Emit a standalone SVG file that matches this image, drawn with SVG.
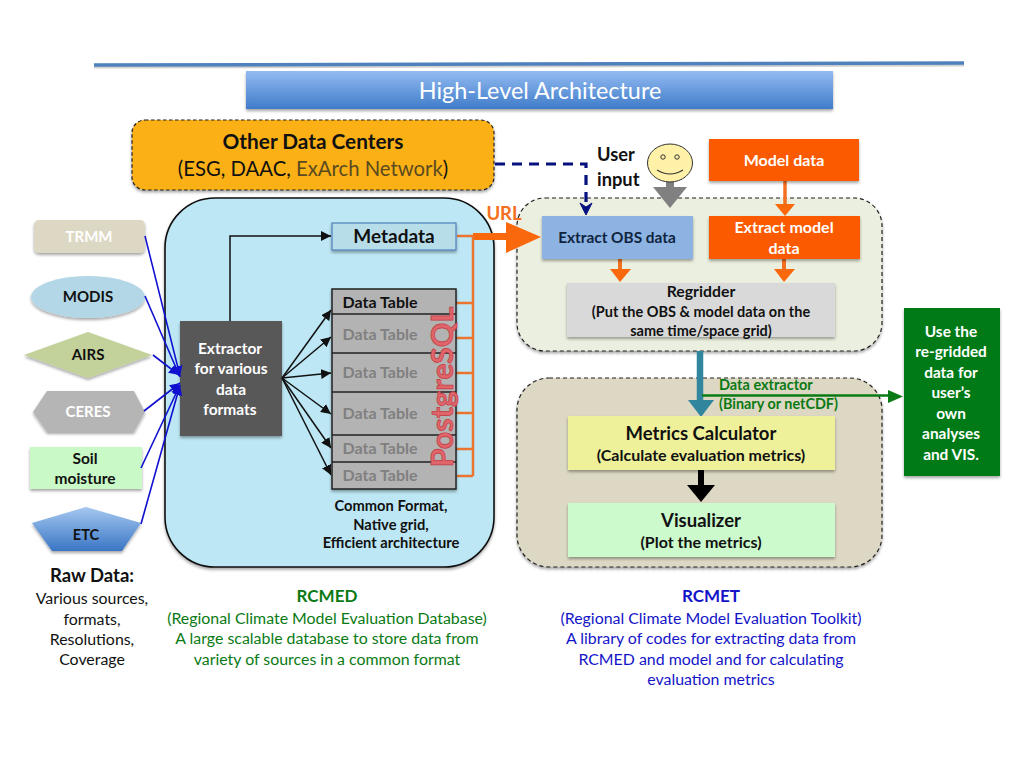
<svg xmlns="http://www.w3.org/2000/svg" width="1024" height="768" viewBox="0 0 1024 768">
<style>
text{font-family:Lato,"Open Sans","Liberation Sans",sans-serif;text-anchor:middle}
.b{font-weight:700}
.k{fill:#111}
.w{fill:#fff;font-weight:700}
.s{filter:url(#sh)}
.dt{font-size:16px;font-weight:700;fill:#808080}
.g{fill:#0a7a14}
.bl{fill:#1414c8}
.con{fill:none;stroke:#111;stroke-width:1.5;marker-end:url(#ah)}
.blue{fill:none;stroke:#1010d0;stroke-width:1.6;marker-end:url(#bh)}
.or{fill:none;stroke:#ea7430;stroke-width:2.5}
.arr{fill:#f9680d}
.sep{stroke:#222;stroke-width:1.5}
.cap{font-size:15.9px}
</style>
<defs>
<filter id="sh" x="-10%" y="-10%" width="120%" height="125%"><feDropShadow dx="0" dy="2" stdDeviation="1.5" flood-color="#000" flood-opacity=".35"/></filter>
<linearGradient id="tg" x1="0" y1="0" x2="0" y2="1"><stop offset="0" stop-color="#93bbf2"/><stop offset="1" stop-color="#3f7cc9"/></linearGradient>
<linearGradient id="eg" x1="0" y1="0" x2="0" y2="1"><stop offset="0" stop-color="#a5c8f0"/><stop offset="1" stop-color="#3a76c4"/></linearGradient>
<marker id="ah" markerUnits="userSpaceOnUse" markerWidth="11" markerHeight="10" refX="10" refY="5" orient="auto"><path d="M0 0L10 5L0 10Z" fill="#111"/></marker>
<marker id="bh" markerUnits="userSpaceOnUse" markerWidth="11" markerHeight="10" refX="10" refY="5" orient="auto"><path d="M0 0L10 5L0 10Z" fill="#1010d0"/></marker>
</defs>
<rect width="1024" height="768" fill="#fff"/>
<g id="rule"><path d="M94 67L964 65" stroke="#000" stroke-opacity=".18" stroke-width="3" fill="none"/><path d="M94 65L964 63" stroke="#4f81bd" stroke-width="3.5" fill="none"/></g>
<g id="title"><rect x="246" y="71" width="587" height="38" fill="url(#tg)" class="s"/><text x="540" y="99" font-size="23.400" fill="#fff">High-Level Architecture</text></g>
<g id="other-data-centers"><rect x="132" y="120" width="362" height="70" rx="13" fill="#fbb016" stroke="#222" stroke-width="1.2" stroke-dasharray="3.5 2.5" class="s"/><text x="313" y="149" font-size="20.800" class="b k">Other Data Centers</text><text x="313" y="176" font-size="20.300" class="k">(ESG, DAAC, <tspan fill="#5a4a20">ExArch Network</tspan>)</text></g>
<g id="rcmed-panel"><rect x="165" y="198" width="329" height="369" rx="50" fill="#bde7f4" stroke="#111" stroke-width="1.6" class="s"/></g>
<g id="rcmet-top-panel"><rect x="517" y="198" width="365" height="153" rx="28" fill="#ebefdf" stroke="#222" stroke-width="1.2" stroke-dasharray="4 3" class="s"/></g>
<g id="rcmet-bottom-panel"><rect x="517" y="378" width="365" height="189" rx="32" fill="#ddd8c3" stroke="#222" stroke-width="1.2" stroke-dasharray="4 3" class="s"/></g>

<g id="trmm"><rect x="34" y="220" width="111" height="33" rx="5" fill="#ddd8c3" class="s"/><text x="89" y="242" font-size="15" class="w">TRMM</text></g>
<g id="modis"><ellipse cx="88" cy="297" rx="57" ry="21" fill="#b3d7e6" class="s"/><text x="88" y="302" font-size="15" class="b k">MODIS</text></g>
<g id="airs"><path d="M24 355L88 332L152 355L88 378Z" fill="#c2d29a" class="s"/><text x="88" y="360" font-size="15" class="b k">AIRS</text></g>
<g id="ceres"><path d="M33 412L47 391H134L145 412L134 432H47Z" fill="#b5b5b5" class="s"/><text x="88" y="417" font-size="15" class="w">CERES</text></g>
<g id="soil-moisture"><rect x="30" y="447" width="112" height="42" fill="#c9f9c6" class="s"/><text x="85" y="464" font-size="15.500" class="b k">Soil</text><text x="85" y="484" font-size="15.500" class="b k">moisture</text></g>
<g id="etc"><path d="M32 523L86 507L141 523L122 551H52Z" fill="url(#eg)" class="s"/><text x="86" y="540" font-size="14.500" class="b k">ETC</text></g>
<g id="extractor"><rect x="180" y="321" width="102" height="115" fill="#595959" class="s"/><text x="230" y="354" font-size="15.500" class="w">Extractor</text><text x="231" y="374" font-size="15.500" class="w">for various</text><text x="231" y="395" font-size="15.500" class="w">data</text><text x="230" y="415" font-size="15.500" class="w">formats</text></g>

<g id="connectors">
<path class="blue" d="M145 236L180 376"/>
<path class="blue" d="M145 296L180 377"/>
<path class="blue" d="M153 355L179 375"/>
<path class="blue" d="M144 411L180 383"/>
<path class="blue" d="M141 468L180 385"/>
<path class="blue" d="M141 524L180 385"/>
<path class="con" d="M230 321V236H331"/>
<path class="con" d="M282 378L331 310"/>
<path class="con" d="M282 378L331 337"/>
<path class="con" d="M282 378L331 373"/>
<path class="con" d="M282 378L331 414"/>
<path class="con" d="M282 378L331 448"/>
<path class="con" d="M282 378L331 475"/>
<path d="M495 164H586V206" fill="none" stroke="#06107f" stroke-width="3.2" stroke-dasharray="10 7"/>
<path d="M580 203L586 215L592 203L586 207Z" fill="#06107f" stroke="#06107f"/>
<path d="M670 180V190" stroke="#808080" stroke-width="8"/>
<path d="M653 187H687L670 208Z" fill="#808080"/>
<path d="M785 181V205" stroke="#f47021" stroke-width="3.5"/>
<path class="arr" d="M775 204H795L785 216Z"/>
<path d="M620 258V270" stroke="#f47021" stroke-width="4"/>
<path class="arr" d="M610 269H631L620 282Z"/>
<path d="M784 258V270" stroke="#f47021" stroke-width="4"/>
<path class="arr" d="M774 269H795L784 282Z"/>
<path d="M457 236H473" stroke="#ea7430" stroke-width="2.5"/>
<path class="arr" d="M473 233H506V222L541 237L506 253V240H473Z"/>
<path class="or" d="M473 236V476"/>
<path class="or" d="M456 303H473M456 338H473M456 373H473M456 413H473M456 449H473M457 476H473"/>
<path d="M700 351V402" stroke="#31859c" stroke-width="6.500"/>
<path d="M688 400H714L701 417Z" fill="#31859c"/>
<path d="M702 395.500H890" stroke="#0a7a14" stroke-width="2.500"/>
<path d="M888 390L903 396.500L888 403Z" fill="#0a7a14"/>
<path d="M701 470V486" stroke="#000" stroke-width="6"/>
<path d="M687 485H715L701 502Z" fill="#000"/>
</g>

<g id="metadata"><rect x="332" y="223" width="124" height="27" fill="#b7dde8" stroke="#4f81bd" stroke-width="1.2" class="s"/><text x="394" y="243" font-size="19" class="b k">Metadata</text></g>
<g id="data-tables"><rect x="332" y="289" width="124" height="200" fill="#b3b3b3" stroke="#222" stroke-width="1.500" class="s"/>
<path class="sep" d="M332 314H456M332 353H456M332 392H456M332 435H456M332 462H456"/>
<text x="380" y="308" font-size="16" class="b k">Data Table</text>
<text x="380" y="340" class="dt">Data Table</text><text x="380" y="378" class="dt">Data Table</text><text x="380" y="419" class="dt">Data Table</text><text x="380" y="454" class="dt">Data Table</text><text x="380" y="481" class="dt">Data Table</text>
<text transform="translate(453 387) rotate(-90)" font-size="30.500" class="b" fill="#e0656b" stroke="#c23a40" stroke-width=".7">PostgreSQL</text>
</g>
<g id="common-format"><text x="391" y="511" font-size="14.700" class="b k">Common Format,</text><text x="391" y="530" font-size="14.700" class="b k">Native grid,</text><text x="391" y="548" font-size="14.700" class="b k">Efficient architecture</text></g>

<g id="url-label"><text x="504" y="220" font-size="18.500" class="b" fill="#f47021">URL</text></g>
<g id="user-input"><text x="597" y="161" font-size="18.300" class="b k" style="text-anchor:start">User</text><text x="597" y="186" font-size="18.300" class="b k" style="text-anchor:start">input</text></g>
<g id="smiley"><ellipse cx="670" cy="163" rx="22.500" ry="19" fill="#fff2a8" stroke="#333" stroke-width="1"/><circle cx="663" cy="157" r="2.200" fill="none" stroke="#333"/><circle cx="677" cy="157" r="2.200" fill="none" stroke="#333"/><path d="M657 170Q670 178 683 170" fill="none" stroke="#333" stroke-width="1.200"/></g>
<g id="model-data"><rect x="709" y="139" width="150" height="42" fill="#fb5a05" class="s"/><text x="784" y="166" font-size="16" class="w">Model data</text></g>
<g id="extract-obs"><rect x="542" y="216" width="151" height="43" fill="#8db3e2" class="s"/><text x="617" y="243" font-size="15.400" class="b" fill="#0f243e">Extract OBS data</text></g>
<g id="extract-model"><rect x="709" y="216" width="151" height="43" fill="#fb5a05" class="s"/><text x="784" y="233" font-size="16" class="w">Extract model</text><text x="784" y="254" font-size="16" class="w">data</text></g>
<g id="regridder"><rect x="567" y="283" width="268" height="54" fill="#d9d9d9" class="s"/><text x="701" y="297" font-size="15.800" class="b k">Regridder</text><text x="701" y="317" font-size="14.500" class="b k">(Put the OBS &amp; model data on the</text><text x="701" y="336" font-size="14.500" class="b k">same time/space grid)</text></g>
<g id="data-extractor-label"><text x="719" y="390" font-size="14.500" class="b g" style="text-anchor:start">Data extractor</text><text x="719" y="409" font-size="14.400" class="b g" style="text-anchor:start">(Binary or netCDF)</text></g>
<g id="metrics"><rect x="568" y="416" width="267" height="54" fill="#eef09a" class="s"/><text x="701" y="440" font-size="18.500" class="b k">Metrics Calculator</text><text x="701" y="461" font-size="16" class="b k">(Calculate evaluation metrics)</text></g>
<g id="visualizer"><rect x="568" y="503" width="267" height="54" fill="#ccfacc" class="s"/><text x="701" y="527" font-size="18.500" class="b k">Visualizer</text><text x="701" y="548" font-size="16" class="b k">(Plot the metrics)</text></g>
<g id="reuse"><rect x="904" y="308" width="96" height="168" fill="#067a14" class="s"/>
<text x="951" y="337" font-size="15.400" class="w">Use the</text><text x="951" y="357" font-size="15.400" class="w">re-gridded</text><text x="951" y="378" font-size="15.400" class="w">data for</text><text x="951" y="398" font-size="15.400" class="w">user’s</text><text x="951" y="419" font-size="15.400" class="w">own</text><text x="951" y="439" font-size="15.400" class="w">analyses</text><text x="951" y="460" font-size="15.400" class="w">and VIS.</text></g>

<g id="raw-data"><text x="92" y="582" font-size="18.500" class="b k">Raw Data:</text><text x="92" y="604" class="k cap">Various sources,</text><text x="92" y="625" class="k cap">formats,</text><text x="92" y="645" class="k cap">Resolutions,</text><text x="92" y="665" class="k cap">Coverage</text></g>
<g id="rcmed-caption"><text x="327" y="602" font-size="17" class="b g">RCMED</text><text x="327" y="624" class="g cap">(Regional Climate Model Evaluation Database)</text><text x="327" y="644" class="g cap">A large scalable database to store data from</text><text x="327" y="665" class="g cap">variety of sources in a common format</text></g>
<g id="rcmet-caption"><text x="711" y="602" font-size="17" class="b bl">RCMET</text><text x="711" y="624" class="bl cap">(Regional Climate Model Evaluation Toolkit)</text><text x="711" y="644" class="bl cap">A library of codes for extracting data from</text><text x="711" y="665" class="bl cap">RCMED and model and for calculating</text><text x="711" y="685" class="bl cap">evaluation metrics</text></g>
</svg>
